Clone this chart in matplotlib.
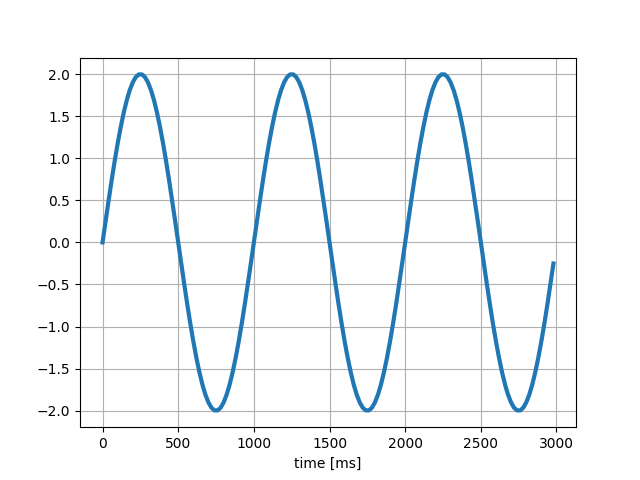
import matplotlib
matplotlib.use('Agg')
import matplotlib.pyplot as plt

# time samples [ms], every 20 ms
time_ms = list(range(0, 3000, 20))

# signal values (amplitude 2, period 1000 ms)
signal = [
    0.000, 0.251, 0.497, 0.736, 0.964, 1.176, 1.369, 1.541, 1.689, 1.810,
    1.902, 1.965, 1.996, 1.996, 1.965, 1.902, 1.810, 1.689, 1.541, 1.369,
    1.176, 0.964, 0.736, 0.497, 0.251, 0.000, -0.251, -0.497, -0.736, -0.964,
    -1.176, -1.369, -1.541, -1.689, -1.810, -1.902, -1.965, -1.996, -1.996, -1.965,
    -1.902, -1.810, -1.689, -1.541, -1.369, -1.176, -0.964, -0.736, -0.497, -0.251,
    0.000, 0.251, 0.497, 0.736, 0.964, 1.176, 1.369, 1.541, 1.689, 1.810,
    1.902, 1.965, 1.996, 1.996, 1.965, 1.902, 1.810, 1.689, 1.541, 1.369,
    1.176, 0.964, 0.736, 0.497, 0.251, 0.000, -0.251, -0.497, -0.736, -0.964,
    -1.176, -1.369, -1.541, -1.689, -1.810, -1.902, -1.965, -1.996, -1.996, -1.965,
    -1.902, -1.810, -1.689, -1.541, -1.369, -1.176, -0.964, -0.736, -0.497, -0.251,
    0.000, 0.251, 0.497, 0.736, 0.964, 1.176, 1.369, 1.541, 1.689, 1.810,
    1.902, 1.965, 1.996, 1.996, 1.965, 1.902, 1.810, 1.689, 1.541, 1.369,
    1.176, 0.964, 0.736, 0.497, 0.251, 0.000, -0.251, -0.497, -0.736, -0.964,
    -1.176, -1.369, -1.541, -1.689, -1.810, -1.902, -1.965, -1.996, -1.996, -1.965,
    -1.902, -1.810, -1.689, -1.541, -1.369, -1.176, -0.964, -0.736, -0.497, -0.251,
]

fig, ax = plt.subplots(figsize=(6.4, 4.8), dpi=100)
ax.plot(time_ms, signal, color='#1f77b4', linewidth=3.0)
ax.set_xlabel('time [ms]')
ax.grid(True)

plt.savefig('out.png')
plt.close()
